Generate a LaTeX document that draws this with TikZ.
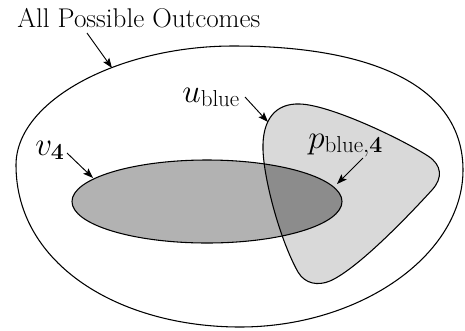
\documentclass[tikz,border=0pt]{standalone}
\usetikzlibrary{arrows.meta}
\begin{document}
\begin{tikzpicture}[x=0.75pt,y=-0.75pt,
  outline/.style={draw=black,line width=0.8pt},
  lbl/.style={inner sep=0pt,anchor=base west,font=\fontsize{23}{26}\selectfont},
  ptr/.style={-{Stealth[length=7.5pt,width=5.5pt,inset=1.5pt]},line width=0.7pt}]
\useasboundingbox (0,0) rectangle (465,330);
% outer region
\draw[outline,fill=white] (233,46) .. controls (380,46) and (463,90) .. (463,170)
  .. controls (463,255) and (360,327) .. (240,327)
  .. controls (120,327) and (16,265) .. (16,165)
  .. controls (16,100) and (120,46) .. (233,46) -- cycle;
% v4 ellipse
\fill[fill={rgb,255:red,178;green,178;blue,178}] (207,201.5) ellipse [x radius=135,y radius=41.5];
% blob
\def\blobpath{(263,150) .. controls (262,120) and (275,103) .. (300,104)
  .. controls (330,105) and (400,138) .. (428,156)
  .. controls (442,165) and (443,178) .. (432,190)
  .. controls (400,225) and (355,270) .. (330,281)
  .. controls (318,286) and (305,284) .. (298,272)
  .. controls (280,240) and (264,180) .. (263,150) -- cycle}
\fill[fill={rgb,255:red,217;green,217;blue,217}] \blobpath;
\begin{scope}
  \clip (207,201.5) ellipse [x radius=135,y radius=41.5];
  \fill[fill={rgb,255:red,140;green,140;blue,140}] \blobpath;
\end{scope}
\draw[outline] (207,201.5) ellipse [x radius=135,y radius=41.5];
\draw[outline] \blobpath;
% labels
\node[lbl,font=\fontsize{20.3}{24}\selectfont] (all) at (17,27) {All Possible Outcomes};
\node[lbl] (ub) at (182,102) {$u_{\mathrm{blue}}$};
\node[lbl] (v4) at (35,155) {$v_{\mathbf{4}}$};
\node[lbl] (pb) at (308,148) {$p_{\mathrm{blue},\mathbf{4}}$};
% arrow coordinates
\coordinate (allS) at (87,33);  \coordinate (allT) at (112,68);
\coordinate (ubS) at (245,97);  \coordinate (ubT) at (268,122);
\coordinate (v4S) at (67,153);  \coordinate (v4T) at (93,178);
\coordinate (pbS) at (363,158); \coordinate (pbT) at (337,184);
\draw[ptr] (allS) -- (allT);
\draw[ptr] (ubS) -- (ubT);
\draw[ptr] (v4S) -- (v4T);
\draw[ptr] (pbS) -- (pbT);
\end{tikzpicture}
\end{document}
